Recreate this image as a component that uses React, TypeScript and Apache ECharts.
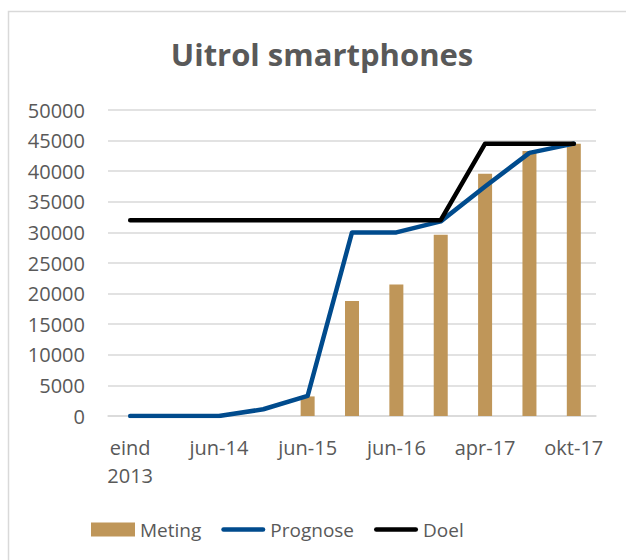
import React, { useEffect, useRef } from "react";
import * as echarts from "echarts";

const categories = [
  "eind\n2013",
  "mrt-14",
  "jun-14",
  "dec-14",
  "jun-15",
  "dec-15",
  "jun-16",
  "dec-16",
  "apr-17",
  "jul-17",
  "okt-17",
];
const meting = [null, null, null, null, 3200, 18800, 21500, 29600, 39600, 43300, 44500];
const prognose = [0, 0, 0, 1100, 3300, 30000, 30000, 31800, 37500, 43000, 44500];
const doel = [32000, 32000, 32000, 32000, 32000, 32000, 32000, 32000, 44500, 44500, 44500];
const titleText = "Uitrol smartphones";

const FONT = "'Open Sans', 'Liberation Sans', sans-serif";
const GREY = "#595959";
const LINE_ICON = "path://M2,0h40a2,2 0 0 1 0,4.6h-40a2,2 0 0 1 0,-4.6z";

export default function App() {
  const ref = useRef<HTMLDivElement>(null);
  useEffect(() => {
    if (!ref.current) return;
    const chart = echarts.init(ref.current, undefined, { renderer: "svg" });
    chart.setOption({
      animation: false,
      backgroundColor: "#ffffff",
      textStyle: { fontFamily: FONT },
      graphic: [
        {
          type: "rect",
          z: -10,
          shape: { x: 8.5, y: 11.5, width: 700, height: 700 },
          style: { fill: "none", stroke: "#D9D9D9", lineWidth: 1.5 },
        },
        {
          type: "text",
          x: 322,
          y: 54,
          style: {
            text: titleText,
            fill: GREY,
            font: `bold 31px ${FONT}`,
            textAlign: "center",
            textVerticalAlign: "middle",
          },
        },
      ],
      grid: { left: 108, right: 30, top: 110, bottom: 144 },
      legend: {
        left: 91,
        top: 520,
        padding: 0,
        itemWidth: 44,
        itemHeight: 14,
        itemGap: 20,
        itemTextGap: 5,
        textStyle: { fontSize: 19, color: GREY, fontFamily: FONT },
        data: [
          { name: "Meting", icon: "rect" },
          { name: "Prognose", icon: LINE_ICON, itemStyle: { color: "#004B8D" }, lineStyle: { width: 0 } },
          { name: "Doel", icon: LINE_ICON, itemStyle: { color: "#000000" }, lineStyle: { width: 0 } },
        ],
      },
      xAxis: {
        type: "category",
        data: categories,
        boundaryGap: true,
        axisLine: { show: true, lineStyle: { color: "#D9D9D9", width: 1.5 } },
        axisTick: { show: false },
        axisLabel: {
          interval: 1,
          fontSize: 20,
          lineHeight: 28,
          color: GREY,
          margin: 17,
          fontFamily: FONT,
        },
      },
      yAxis: {
        type: "value",
        min: 0,
        max: 50000,
        interval: 5000,
        axisLine: { show: false },
        axisTick: { show: false },
        axisLabel: {
          fontSize: 20,
          color: GREY,
          margin: 23,
          fontFamily: FONT,
          formatter: (v: number) => String(v),
        },
        splitLine: { lineStyle: { color: "#D9D9D9", width: 1.5 } },
      },
      series: [
        {
          name: "Meting",
          type: "bar",
          data: meting,
          barWidth: 14,
          itemStyle: { color: "#BF9659" },
        },
        {
          name: "Prognose",
          type: "line",
          data: prognose,
          symbol: "none",
          lineStyle: { color: "#004B8D", width: 4.5, cap: "round", join: "round" },
          itemStyle: { color: "#004B8D" },
        },
        {
          name: "Doel",
          type: "line",
          data: doel,
          symbol: "none",
          lineStyle: { color: "#000000", width: 4.5, cap: "round", join: "round" },
          itemStyle: { color: "#000000" },
        },
      ],
    });
    return () => chart.dispose();
  }, []);
  return (
    <div
      ref={ref}
      style={{ position: "absolute", left: 0, top: 0, width: 626, height: 560 }}
    />
  );
}
